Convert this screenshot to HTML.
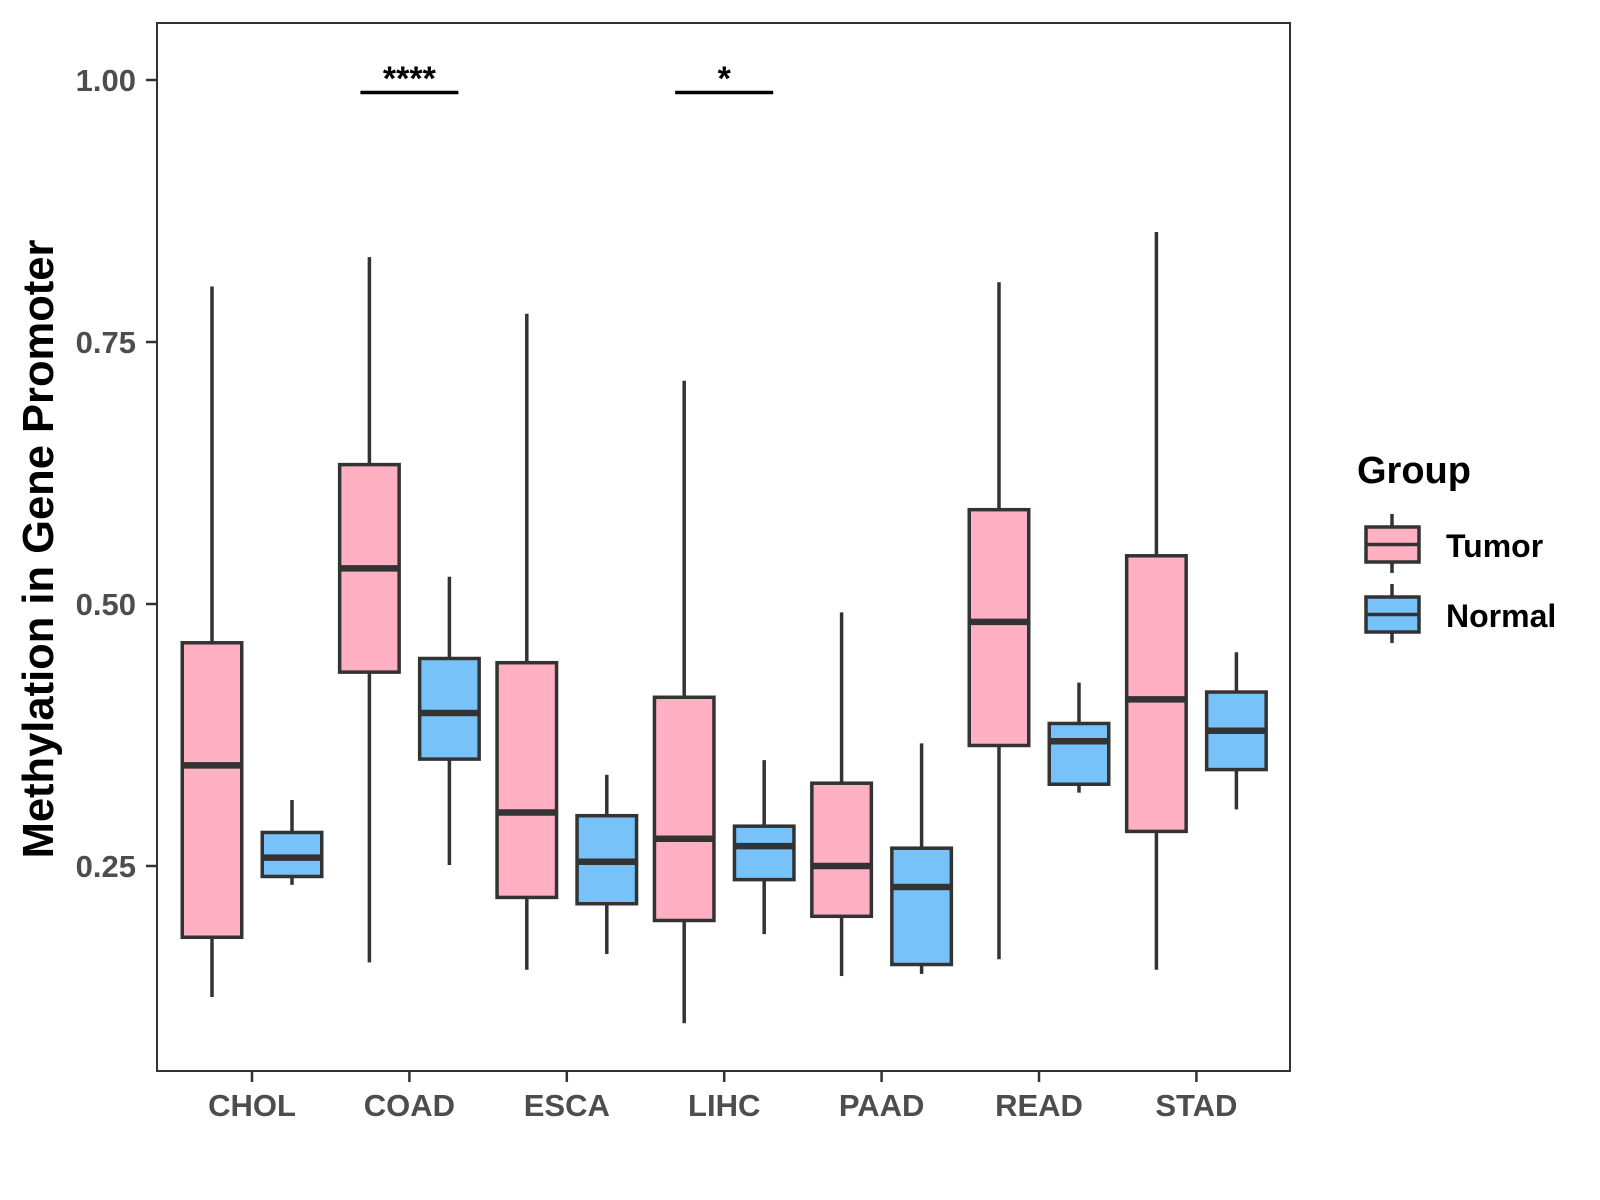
<!DOCTYPE html>
<html><head><meta charset="utf-8"><style>
html,body{margin:0;padding:0;background:#fff;}
svg{display:block;font-family:"Liberation Sans",Arial,sans-serif;}
</style></head><body>
<svg id="chart" width="1600" height="1200" viewBox="0 0 1600 1200">
<rect x="0" y="0" width="1600" height="1200" fill="#fff"/>
<g id="plot"></g>
<rect x="157" y="23" width="1133" height="1048" fill="none" stroke="#333" stroke-width="2"/>
<g id="axes"></g>
<text x="0" y="0" transform="translate(53,549) rotate(-90)" text-anchor="middle" font-size="43.5" font-weight="bold" fill="#000">Methylation in Gene Promoter</text>
<g>
<text x="1357" y="483" font-size="38" font-weight="bold" fill="#000">Group</text>
<g>
<line x1="1392" y1="514" x2="1392" y2="573" stroke="#333" stroke-width="3.5"/>
<rect x="1366" y="527" width="53" height="35" fill="#FFB0C3" stroke="#333" stroke-width="3.5"/>
<line x1="1366" y1="544.5" x2="1419" y2="544.5" stroke="#333" stroke-width="3.5"/>
<text x="1446" y="557" font-size="32" font-weight="bold" fill="#000">Tumor</text>
</g>
<g>
<line x1="1392" y1="584" x2="1392" y2="643" stroke="#333" stroke-width="3.5"/>
<rect x="1366" y="597" width="53" height="35" fill="#77C2F8" stroke="#333" stroke-width="3.5"/>
<line x1="1366" y1="614.5" x2="1419" y2="614.5" stroke="#333" stroke-width="3.5"/>
<text x="1446" y="627" font-size="32" font-weight="bold" fill="#000">Normal</text>
</g>
</g>
</svg>
<script>
const categories = ["CHOL","COAD","ESCA","LIHC","PAAD","READ","STAD"];
// [lowWhisker, q1, median, q3, highWhisker]
const tumorStats = [
 [0.125,0.182,0.346,0.463,0.803],
 [0.158,0.435,0.534,0.633,0.831],
 [0.151,0.220,0.301,0.444,0.777],
 [0.100,0.198,0.276,0.411,0.713],
 [0.145,0.202,0.250,0.329,0.492],
 [0.161,0.365,0.483,0.590,0.807],
 [0.151,0.283,0.409,0.546,0.855]
];
const normalStats = [
 [0.232,0.240,0.258,0.282,0.313],
 [0.251,0.352,0.396,0.448,0.526],
 [0.166,0.214,0.254,0.298,0.337],
 [0.185,0.237,0.269,0.288,0.351],
 [0.147,0.156,0.230,0.267,0.367],
 [0.320,0.328,0.369,0.386,0.425],
 [0.304,0.342,0.379,0.416,0.454]
];
const yTicks = [0.25,0.50,0.75,1.00];
const yTickLabels = ["0.25","0.50","0.75","1.00"];
const sigCats = ["COAD","LIHC"];
const sigLabels = ["****","*"];

const NS="http://www.w3.org/2000/svg";
function y(v){return 80+(1-v)*1048;}
function x(i){return 252+i*157.4;}
function mk(tag,attrs,parent){const e=document.createElementNS(NS,tag);for(const k in attrs)e.setAttribute(k,attrs[k]);parent.appendChild(e);return e;}
const plot=document.getElementById('plot');
const axes=document.getElementById('axes');
const bw=59.5, off=40;
function drawBox(s,cx,fill,name){
  const g=mk('g',{},plot);
  
  
  mk('line',{x1:cx,x2:cx,y1:y(s[4]),y2:y(s[3]),stroke:'#333','stroke-width':3.5},g);
  mk('line',{x1:cx,x2:cx,y1:y(s[1]),y2:y(s[0]),stroke:'#333','stroke-width':3.5},g);
  mk('rect',{x:cx-bw/2,y:y(s[3]),width:bw,height:y(s[1])-y(s[3]),fill:fill,stroke:'#333','stroke-width':3.5},g);
  mk('line',{x1:cx-bw/2,x2:cx+bw/2,y1:y(s[2]),y2:y(s[2]),stroke:'#333','stroke-width':6.5},g);
}
categories.forEach((c,i)=>{
  drawBox(tumorStats[i],x(i)-off,'#FFB0C3','box-tumor-'+c.toLowerCase());
  drawBox(normalStats[i],x(i)+off,'#77C2F8','box-normal-'+c.toLowerCase());
  const t=mk('line',{x1:x(i),x2:x(i),y1:1072,y2:1082,stroke:'#333','stroke-width':2.5},axes);
  
  
  const l=mk('text',{x:x(i),y:1116,'text-anchor':'middle','font-size':31,'font-weight':'bold',fill:'#4d4d4d'},axes);
  l.textContent=c;
  
  
});
yTicks.forEach((v,i)=>{
  const t=mk('line',{x1:146,x2:156,y1:y(v),y2:y(v),stroke:'#333','stroke-width':2.5},axes);
  
  
  const l=mk('text',{x:136,y:y(v)+11,'text-anchor':'end','font-size':31,'font-weight':'bold',fill:'#4d4d4d'},axes);
  l.textContent=yTickLabels[i];
  
  
});
sigCats.forEach((c,k)=>{
  const i=categories.indexOf(c);
  const ln=mk('line',{x1:x(i)-49,x2:x(i)+49,y1:92.5,y2:92.5,stroke:'#000','stroke-width':3.5},plot);
  
  
  const tx=mk('text',{x:x(i),y:90,'text-anchor':'middle','font-size':34,'font-weight':'bold',fill:'#000'},plot);
  tx.textContent=sigLabels[k];
  
  
});
</script>
</body></html>
